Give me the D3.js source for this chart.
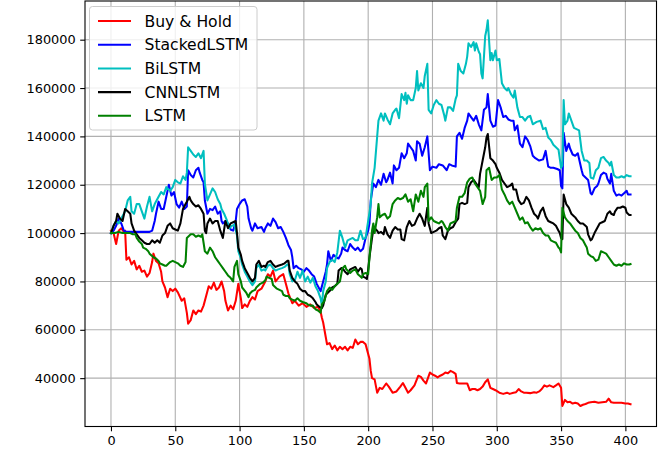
<!DOCTYPE html>
<html><head><meta charset="utf-8">
<script src="https://cdn.jsdelivr.net/npm/d3@7"></script>
<style>body{margin:0;background:#fff}svg{display:block}text{font-family:"DejaVu Sans",sans-serif}</style>
</head><body><svg id="c" width="667" height="456"></svg>
<script>
const seriesNames = ["Buy & Hold","StackedLSTM","BiLSTM","CNNLSTM","LSTM"];
const seriesColors = ["#ff0000","#0000ff","#00bfbf","#000000","#008000"];
const xTicks = [0,50,100,150,200,250,300,350,400];
const yTicks = [40000,60000,80000,100000,120000,140000,160000,180000];

const buyHold = [[0,101000],[2,100000],[4,95500],[6,101000],[8,102000],[10,100500],[11,101000],[12,89000],[14,90000],[16,87000],[18,88500],[20,85000],[22,86500],[24,84000],[26,84500],[28,82000],[30,83500],[32,88000],[33,91500],[35,88500],[37,87500],[39,84000],[40,80000],[42,77500],[44,73500],[46,77000],[48,76000],[50,77000],[52,75500],[55,72000],[57,73000],[59,67000],[60,62500],[62,64000],[64,68000],[66,66500],[68,68000],[70,67500],[72,70000],[74,74000],[76,78000],[78,77000],[80,79500],[82,76500],[84,77500],[86,80000],[88,76000],[89,72000],[91,68000],[93,70000],[95,68500],[97,72000],[99,79000],[101,73000],[102,69000],[104,70500],[106,69500],[108,72000],[110,73500],[112,72500],[114,76000],[117,77000],[120,80000],[122,83000],[124,82000],[126,84500],[128,80000],[131,82000],[134,83000],[136,79000],[138,75000],[141,71000],[143,72000],[146,70000],[149,71000],[152,69500],[155,70500],[158,69000],[161,69500],[163,67500],[164,65000],[165,63000],[167,57000],[168,54000],[170,54500],[172,52000],[174,53500],[176,51500],[178,53000],[180,52000],[182,53000],[184,51500],[186,53000],[188,52500],[190,56000],[192,54000],[194,55000],[196,55000],[198,54000],[199,52000],[201,48000],[202,43000],[203,40000],[205,39500],[207,34000],[209,36000],[211,35500],[214,37800],[216,36500],[219,34000],[222,34500],[225,36500],[227,38000],[229,36000],[231,34000],[233,35000],[236,37000],[239,41000],[241,40500],[243,39000],[245,37800],[248,42300],[250,41500],[252,41000],[254,40300],[256,41000],[258,41500],[260,42300],[262,42000],[264,43000],[266,42500],[268,41800],[269,38000],[271,37800],[274,37800],[277,37800],[279,35000],[281,35500],[283,35500],[285,35000],[287,35500],[289,36500],[291,38300],[293,39500],[295,36000],[297,35500],[299,35000],[302,34000],[305,33500],[308,34000],[310,33500],[313,34000],[315,34200],[317,35500],[319,34500],[321,34000],[323,34000],[326,33800],[329,34200],[331,34000],[333,34500],[335,35500],[337,37000],[339,36500],[341,37000],[344,36300],[346,37000],[348,37800],[350,36000],[351,28500],[353,31000],[355,30000],[357,30200],[359,29500],[361,29800],[363,29500],[365,28500],[367,29000],[369,29300],[371,29800],[373,30000],[376,30200],[379,29800],[382,30000],[385,30200],[387,31500],[389,30000],[391,29800],[394,29800],[397,29800],[400,29500],[402,29500],[404,29200]];

const stackedLSTM = [[0,100000],[2,101000],[4,103000],[6,106000],[8,104000],[10,101000],[12,100500],[15,100500],[20,100500],[25,100500],[30,100500],[32,101000],[34,105000],[35,108000],[37,113000],[39,110000],[41,110000],[43,115000],[45,120000],[47,115500],[49,117000],[51,112000],[53,110500],[55,113000],[57,110000],[59,111000],[60,126000],[62,124000],[64,123000],[66,126000],[68,127000],[69,125000],[71,122000],[72,121000],[73,113500],[75,108000],[77,110000],[79,109500],[81,111000],[83,108000],[85,109000],[86,105000],[87,104000],[89,105000],[91,104000],[93,101500],[95,101000],[97,105000],[98,110000],[100,112000],[102,113500],[104,114000],[106,111000],[107,106000],[109,102000],[110,101000],[112,104000],[114,102000],[117,102500],[119,100500],[120,102000],[122,104000],[124,103000],[126,106000],[128,104500],[130,102000],[132,102500],[134,100500],[136,98000],[138,95000],[140,93000],[141,90000],[142,85500],[144,86500],[146,85500],[148,85000],[150,84000],[152,85500],[154,84500],[156,83000],[158,82000],[160,79000],[162,77000],[163,76000],[165,80000],[167,84000],[168,87000],[169,92500],[171,88500],[173,91000],[175,90000],[177,89500],[179,91500],[180,94000],[182,93000],[184,92500],[186,95500],[188,94000],[190,93000],[192,94000],[194,92500],[196,93500],[198,98000],[200,101000],[201,104000],[202,113500],[204,120500],[206,119000],[208,122000],[210,120000],[212,124500],[214,121000],[215,122000],[217,125000],[219,120500],[220,128000],[222,126000],[224,127000],[226,133000],[228,131000],[230,133000],[231,137000],[233,135500],[235,134000],[237,130000],[238,138000],[240,137000],[242,132000],[244,135500],[246,140000],[248,126000],[250,127500],[253,127000],[255,128500],[258,128000],[261,126000],[263,128500],[265,128000],[268,127500],[269,140000],[271,141500],[273,139000],[275,143500],[277,146500],[278,149500],[280,148000],[282,146500],[284,148500],[286,145000],[288,142500],[290,151000],[292,152000],[293,157500],[295,146500],[297,144000],[299,144500],[301,155000],[303,152000],[305,148000],[307,148500],[309,147000],[311,146500],[313,146500],[314,142500],[316,144500],[318,137000],[320,135500],[322,140000],[324,138500],[326,136000],[328,132000],[330,131000],[333,130000],[336,130500],[338,134000],[340,127500],[342,127000],[344,127000],[347,126500],[349,126000],[350,119500],[351,118500],[352,141500],[354,134000],[356,137000],[357,135000],[359,132500],[361,132000],[363,133000],[366,126000],[367,124000],[369,123000],[371,122000],[373,116500],[374,116000],[376,118500],[378,119500],[379,120500],[381,124000],[383,125000],[385,124500],[386,122500],[388,120500],[389,124500],[391,117500],[393,115500],[395,116000],[397,115500],[399,116500],[401,117500],[402,116000],[404,116000]];

const biLSTM = [[0,100000],[2,103000],[4,105000],[6,104000],[8,106000],[10,108000],[11,109000],[13,113500],[15,115000],[16,109000],[18,108000],[20,112000],[22,112000],[24,109000],[26,106000],[28,111000],[30,115000],[32,109000],[34,112000],[37,115000],[39,117000],[41,116000],[43,119000],[46,117500],[48,119000],[50,122000],[52,121000],[54,120500],[56,123500],[58,122000],[59,125000],[60,135500],[62,134000],[64,132500],[66,131500],[68,133000],[70,131000],[72,134000],[73,120500],[75,113500],[77,116000],[79,118500],[81,117000],[83,114000],[85,112000],[86,110000],[88,108000],[90,105500],[92,102000],[94,103000],[96,103500],[98,99000],[99,92500],[101,89500],[102,87000],[104,84000],[106,82000],[108,80000],[110,78500],[112,80000],[113,85500],[115,87000],[117,84500],[119,85000],[120,84500],[122,86500],[124,87000],[126,85500],[128,84500],[130,85000],[133,85500],[135,86000],[137,87000],[138,87000],[139,83000],[141,80000],[143,80500],[145,84000],[147,81500],[149,84500],[151,80000],[153,82000],[155,79500],[157,81500],[159,78000],[161,76000],[163,73000],[164,70000],[165,76000],[167,80000],[168,85500],[170,88000],[172,89000],[174,88000],[176,92000],[178,101000],[180,98000],[182,94000],[184,97000],[186,97500],[188,98000],[190,97000],[192,97000],[194,101000],[196,97500],[198,98000],[200,105000],[202,112000],[203,120500],[205,127000],[207,140000],[208,146500],[210,149500],[212,146500],[213,149500],[215,147000],[217,145000],[219,149500],[221,151000],[222,151500],[224,147500],[226,157500],[228,155000],[229,158000],[230,153500],[231,157000],[233,155000],[235,155000],[237,160000],[238,167000],[239,159000],[241,162000],[243,160000],[244,165000],[246,170000],[247,151000],[249,149500],[251,153000],[253,155000],[255,153500],[257,153000],[259,149000],[260,146500],[262,152000],[264,152000],[266,150500],[268,155500],[269,157000],[270,170000],[272,167000],[274,166000],[276,170000],[277,173000],[278,178500],[280,177000],[282,179000],[283,175500],[284,178500],[286,175000],[287,174000],[288,166000],[289,164000],[291,181500],[292,184000],[293,188000],[295,171500],[296,174500],[297,171500],[299,175500],[300,171500],[302,172000],[304,162000],[306,160000],[308,159000],[309,160000],[311,157500],[313,156000],[314,159000],[316,152000],[318,148000],[320,148000],[322,146500],[324,148000],[326,148500],[328,145000],[331,146000],[334,146500],[336,143000],[338,143500],[340,139500],[342,138500],[344,136500],[346,135500],[348,134500],[350,127000],[351,128000],[352,155000],[353,145000],[355,146500],[356,149500],[358,146500],[360,143500],[362,143000],[364,142500],[366,134000],[368,130000],[370,130000],[372,129000],[373,123000],[375,122500],[377,126000],[379,127000],[381,131000],[383,131500],[385,130000],[387,129000],[388,128000],[389,129500],[391,124000],[393,123000],[395,123000],[397,123500],[399,123000],[401,124000],[403,123500],[404,123500]];

const cnnLSTM = [[0,100000],[2,103000],[4,105000],[5,108000],[7,106000],[9,105000],[11,110000],[13,109000],[15,108000],[16,104000],[18,101000],[20,99500],[22,98000],[24,97000],[26,96000],[28,95500],[30,95500],[32,97000],[34,96000],[36,97000],[38,96000],[40,99000],[42,100000],[44,103000],[46,104000],[48,102000],[50,101500],[52,101000],[54,104000],[56,110000],[58,112000],[59,113000],[61,115000],[62,113500],[64,112000],[66,111000],[68,111500],[70,110000],[72,108000],[73,101000],[74,100000],[75,104000],[77,106000],[79,104000],[81,105000],[83,105000],[85,101000],[87,98000],[89,105000],[91,102000],[93,104000],[95,104500],[97,105000],[98,100000],[99,94000],[101,91000],[102,88500],[104,85500],[106,83500],[108,81500],[110,80000],[112,81500],[113,87000],[115,88500],[117,86000],[119,86500],[120,86000],[122,88000],[124,88500],[126,87000],[128,86000],[130,86500],[133,87000],[135,87500],[137,88500],[138,88500],[139,84500],[141,81500],[143,80000],[145,79000],[147,77000],[149,76000],[151,76000],[153,74500],[155,74000],[157,73000],[159,71500],[160,70500],[162,69500],[164,69000],[165,70000],[167,74500],[169,75500],[170,76000],[172,77500],[174,78000],[176,79000],[177,84500],[179,85500],[180,85500],[182,84000],[184,83000],[186,85000],[188,85500],[190,86000],[192,84000],[194,85500],[195,85000],[196,82000],[198,81500],[199,81000],[200,85000],[201,90000],[203,98000],[204,101500],[205,102000],[207,101000],[208,100000],[210,100500],[212,99500],[213,102500],[215,99500],[217,98000],[219,101000],[221,102500],[223,101500],[225,101500],[226,97500],[228,97000],[230,102500],[232,105000],[234,103000],[236,103500],[238,106000],[240,108000],[242,106000],[244,103000],[246,110500],[247,104000],[249,100000],[251,100500],[253,101000],[255,102000],[257,102500],[258,99000],[260,97500],[262,101000],[264,102000],[266,102500],[268,104500],[270,106000],[271,112000],[273,112500],[275,112000],[277,112500],[278,119000],[280,121000],[282,122000],[284,120500],[286,119000],[287,124500],[289,130000],[291,135500],[292,139500],[293,141000],[295,131000],[297,130000],[299,128500],[300,127000],[302,125000],[304,122000],[306,120500],[308,119000],[310,119500],[312,120500],[313,118000],[315,118000],[317,113500],[319,112000],[321,112500],[323,115000],[325,113500],[327,110500],[329,108000],[331,107000],[332,106000],[334,109000],[336,110500],[338,107000],[340,105000],[342,104500],[344,104000],[346,103000],[348,101000],[349,100000],[350,98000],[351,97500],[352,116000],[354,112000],[356,110500],[358,108000],[360,107000],[361,106500],[363,105000],[365,104000],[367,104000],[369,103000],[370,102500],[371,99500],[373,97000],[374,97500],[376,100000],[378,102000],[380,104000],[382,104500],[384,105000],[386,108000],[388,109000],[389,108000],[391,107500],[392,109000],[394,110500],[396,110500],[398,111000],[400,110500],[401,108500],[403,107500],[404,107500]];

const lstm = [[0,100000],[3,100000],[6,100500],[9,100000],[12,100000],[15,100000],[17,99500],[19,99500],[20,98000],[22,96500],[24,95500],[25,94000],[27,93500],[29,92500],[30,91500],[32,90500],[33,90000],[35,89500],[37,88500],[38,87500],[40,87000],[42,86500],[43,86500],[46,88000],[48,88500],[50,88000],[52,87500],[54,86500],[56,86000],[58,88000],[59,98000],[61,99000],[62,99500],[64,99500],[66,98500],[68,99000],[70,98500],[71,99500],[72,96000],[73,92500],[75,91500],[77,94000],[79,92500],[81,90000],[83,88500],[85,87000],[87,85500],[89,84000],[91,82500],[93,81500],[95,80000],[96,86000],[98,88500],[99,83000],[101,80000],[102,77500],[105,75500],[107,73500],[108,75000],[110,76000],[112,76500],[113,77500],[115,78500],[116,79000],[118,79500],[120,80500],[121,82000],[123,81500],[125,81000],[126,78500],[128,77500],[129,77000],[131,76500],[133,76000],[134,74500],[136,74000],[138,74000],[139,73000],[141,72500],[143,72000],[145,73000],[147,72000],[149,71500],[152,71000],[153,70500],[155,70000],[157,70000],[159,68500],[161,68000],[163,67000],[164,70500],[166,72000],[168,76000],[170,77500],[172,76500],[174,78000],[176,79000],[178,80000],[180,85500],[182,86500],[183,85000],[185,84000],[186,83500],[188,84500],[190,85000],[191,84000],[192,83000],[194,82000],[195,81500],[196,83000],[198,83500],[200,83000],[201,90000],[203,101000],[204,104000],[205,100000],[207,106500],[208,112000],[209,106500],[211,107500],[213,108000],[215,106000],[217,107000],[219,112000],[221,113500],[223,114500],[225,114000],[227,114500],[229,116000],[231,113000],[233,114000],[235,109000],[237,116000],[239,113000],[241,117500],[243,115000],[244,119000],[246,120500],[247,105000],[249,106500],[251,105000],[253,104500],[255,104000],[257,105000],[258,104500],[260,102500],[262,101000],[264,104000],[266,104500],[268,105000],[269,110500],[271,115000],[273,115000],[275,116500],[277,121000],[279,122500],[281,123000],[283,120500],[285,119000],[287,117500],[289,112000],[291,115000],[292,126000],[294,127000],[296,122000],[298,123000],[300,123000],[302,124000],[304,118000],[306,116000],[308,113500],[310,112000],[312,113000],[314,110500],[316,108000],[318,105500],[320,106500],[322,104000],[324,104500],[326,102500],[328,101000],[330,102000],[332,101500],[334,102000],[336,100000],[338,99000],[340,99000],[342,97000],[344,96500],[346,96000],[348,94000],[349,93500],[350,92000],[351,110500],[353,106500],[355,105000],[357,104000],[359,102500],[361,101000],[363,100000],[365,98000],[367,97000],[369,95000],[370,94000],[371,91500],[373,90500],[375,90000],[377,88500],[379,89000],[381,92500],[383,92000],[385,91500],[387,90000],[389,88500],[391,87000],[393,86500],[395,87000],[397,86500],[399,87500],[401,87000],[403,87000],[404,87200]];

const allSeries = [buyHold, stackedLSTM, biLSTM, cnnLSTM, lstm];

const svg = d3.select("#c");
const L = 85, R = 656.5, T = 1, B = 426.5;
const x = d3.scaleLinear().domain([-20.2, 424.2]).range([L, R]);
const y = d3.scaleLinear().domain([20000, 196000]).range([B, T]);

// grid
const grid = svg.append("g");
grid.selectAll("line.gx").data(xTicks).join("line")
  .attr("x1", d => x(d)).attr("x2", d => x(d)).attr("y1", T).attr("y2", B)
  .attr("stroke", "#b0b0b0").attr("stroke-width", 1.1);
grid.selectAll("line.gy").data(yTicks).join("line")
  .attr("y1", d => y(d)).attr("y2", d => y(d)).attr("x1", L).attr("x2", R)
  .attr("stroke", "#b0b0b0").attr("stroke-width", 1.1);

// lines
const line = d3.line().x(d => x(d[0])).y(d => y(d[1]));
svg.append("g").selectAll("path").data(allSeries).join("path")
  .attr("d", line).attr("fill", "none")
  .attr("stroke", (d, i) => seriesColors[i]).attr("stroke-width", 2.05)
  .attr("stroke-linejoin", "round").attr("stroke-linecap", "square");

// axes
const xAxis = d3.axisBottom(x).tickValues(xTicks).tickSize(4.8).tickPadding(4.5);
const yAxis = d3.axisLeft(y).tickValues(yTicks).tickSize(4.8).tickPadding(4.5).tickFormat(d3.format("d"));
const gx = svg.append("g").attr("transform", `translate(0,${B})`).call(xAxis);
const gy = svg.append("g").attr("transform", `translate(${L},0)`).call(yAxis);
[gx, gy].forEach(g => {
  g.select(".domain").remove();
  g.selectAll("line").attr("stroke", "#000").attr("stroke-width", 1.1);
  g.selectAll("text").attr("font-family", "DejaVu Sans").attr("font-size", 12.9).attr("fill", "#000");
});

// frame
svg.append("rect").attr("x", L).attr("y", T).attr("width", R - L).attr("height", B - T)
  .attr("fill", "none").attr("stroke", "#000").attr("stroke-width", 1.1);

// legend
const lg = svg.append("g");
lg.append("rect").attr("x", 89.5).attr("y", 6.5).attr("width", 167.5).attr("height", 123.5)
  .attr("rx", 3).attr("fill", "#fff").attr("fill-opacity", 0.8)
  .attr("stroke", "#cccccc").attr("stroke-width", 1);
const items = lg.selectAll("g.it").data(seriesNames).join("g")
  .attr("transform", (d, i) => `translate(0,${21 + i * 23.7})`);
items.append("line").attr("x1", 98).attr("x2", 131).attr("y1", 0).attr("y2", 0)
  .attr("stroke", (d, i) => seriesColors[i]).attr("stroke-width", 2.05);
items.append("text").attr("x", 144.5).attr("y", 0).attr("dy", "0.36em")
  .attr("font-family", "DejaVu Sans").attr("font-size", 15.6).attr("fill", "#000")
  .text(d => d);
</script></body></html>
